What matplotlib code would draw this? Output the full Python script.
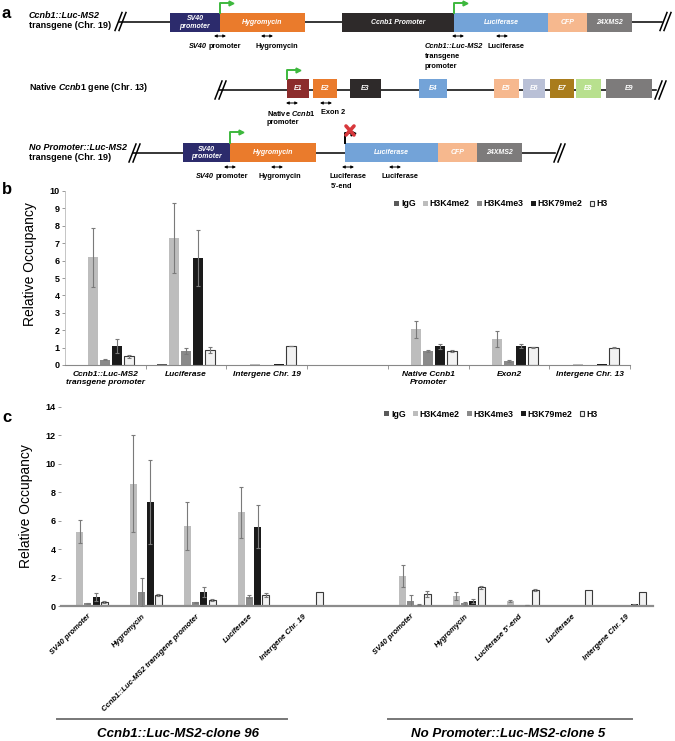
import numpy as np
import matplotlib
matplotlib.use("Agg")
import matplotlib.pyplot as plt
from matplotlib.patches import Rectangle

plt.rcParams["font.family"] = ["Liberation Sans", "DejaVu Sans"]
plt.rcParams["mathtext.fontset"] = "custom"
plt.rcParams["mathtext.it"] = "Liberation Sans:italic:bold"
plt.rcParams["mathtext.rm"] = "Liberation Sans:bold"
plt.rcParams["mathtext.bf"] = "Liberation Sans:bold"

nan = np.nan

# ---- panel b data ----
b_categories = ["Ccnb1::Luc-MS2\ntransgene promoter", "Luciferase", "Intergene Chr. 19", "",
                "Native Ccnb1\nPromoter", "Exon2", "Intergene Chr. 13"]
b_igg = [0.02, 0.03, 0.0, nan, 0.0, 0.0, 0.0]
b_igg_err = [nan, nan, nan, nan, nan, nan, nan]
b_h3k4me2 = [6.2, 7.3, 0.07, nan, 2.05, 1.5, 0.03]
b_h3k4me2_err = [1.7, 2.0, nan, nan, 0.47, 0.45, nan]
b_h3k4me3 = [0.3, 0.8, 0.0, nan, 0.8, 0.22, 0.0]
b_h3k4me3_err = [0.04, 0.15, nan, nan, 0.05, 0.07, nan]
b_h3k79me2 = [1.1, 6.15, 0.05, nan, 1.08, 1.08, 0.04]
b_h3k79me2_err = [0.4, 1.6, nan, nan, 0.15, 0.12, nan]
b_h3 = [0.5, 0.85, 1.1, nan, 0.78, 1.02, 1.0]
b_h3_err = [0.08, 0.16, 0.02, nan, 0.06, 0.04, 0.02]

# ---- panel c data ----
c_categories = ["SV40 promoter", "Hygromycin", "Ccnb1::Luc-MS2 transgene promoter", "Luciferase",
                "Intergene Chr. 19", "", "SV40 promoter", "Hygromycin", "Luciferase 5'-end",
                "Luciferase", "Intergene Chr. 19"]
c_igg = [0.02, 0.02, 0.02, 0.02, 0.03, nan, 0.02, 0.02, 0.0, 0.04, 0.01]
c_igg_err = [nan] * 11
c_h3k4me2 = [5.23, 8.6, 5.63, 6.6, 0.0, nan, 2.11, 0.7, 0.35, 0.06, 0.02]
c_h3k4me2_err = [0.8, 3.4, 1.7, 1.8, nan, nan, 0.75, 0.28, 0.05, nan, nan]
c_h3k4me3 = [0.2, 1.0, 0.25, 0.66, 0.0, nan, 0.35, 0.19, 0.02, 0.03, 0.05]
c_h3k4me3_err = [0.03, 1.0, 0.03, 0.12, nan, nan, 0.42, 0.12, nan, nan, nan]
c_h3k79me2 = [0.61, 7.3, 0.97, 5.59, 0.05, nan, 0.1, 0.33, 0.08, 0.04, 0.12]
c_h3k79me2_err = [0.28, 2.95, 0.37, 1.5, nan, nan, 0.03, 0.13, 0.02, nan, 0.02]
c_h3 = [0.3, 0.78, 0.42, 0.75, 1.0, nan, 0.85, 1.31, 1.1, 1.13, 0.96]
c_h3_err = [0.08, 0.08, 0.08, 0.15, nan, nan, 0.2, 0.08, 0.07, nan, nan]
c_groups = ["Ccnb1::Luc-MS2-clone 96", "No Promoter::Luc-MS2-clone 5"]

series_names = ["IgG", "H3K4me2", "H3K4me3", "H3K79me2", "H3"]
series_colors = ["#5a5a5a", "#bdbdbd", "#8a8a8a", "#1a1a1a", "#f2f2f2"]
series_edges = ["none", "none", "none", "none", "#3a3a3a"]

# ---- panel a schematic (pixel layout) ----
row1_boxes = [("SV40\npromoter", 170, 220, "#2c2b6c"), ("Hygromycin", 220, 305, "#ea7b2c"),
              ("Ccnb1 Promoter", 342, 454, "#2e2a2a"), ("Luciferase", 454, 548, "#73a3d8"),
              ("CFP", 548, 587, "#f6b88e"), ("24XMS2", 587, 632, "#7d7b7b")]
row2_boxes = [("E1", 287, 309, "#8c2c2c"), ("E2", 313, 337, "#ea7b2c"), ("E3", 350, 381, "#2e2a2a"),
              ("E4", 419, 447, "#73a3d8"), ("E5", 494, 519, "#f6b88e"), ("E6", 523, 545, "#b9c0d6"),
              ("E7", 550, 574, "#a97c1c"), ("E8", 576, 601, "#b8e08e"), ("E9", 606, 652, "#7d7b7b")]
row3_boxes = [("SV40\npromoter", 183, 230, "#2c2b6c"), ("Hygromycin", 230, 316, "#ea7b2c"),
              ("Luciferase", 345, 438, "#73a3d8"), ("CFP", 438, 477, "#f6b88e"),
              ("24XMS2", 477, 522, "#7d7b7b")]

W, H = 675, 741
fig = plt.figure(figsize=(W / 100, H / 100), dpi=100)
ax0 = fig.add_axes((0, 0, 1, 1))
ax0.set_xlim(0, W)
ax0.set_ylim(H, 0)
ax0.axis("off")

green = "#3db83d"


def break_mark(x, y):
    for dx in (0, 4):
        ax0.plot([x - 4 + dx, x + 3 + dx], [y + 9, y - 9], color="black", lw=1.1)


def gene_row(boxes, y, x0, x1, top, bot, fs=5.0):
    ax0.plot([x0, x1], [y, y], color="black", lw=1.1, zorder=1)
    for label, a, b, col in boxes:
        ax0.add_patch(Rectangle((a, top), b - a, bot - top, facecolor=col, edgecolor="none", zorder=2))
        ax0.text((a + b) / 2, (top + bot) / 2 + 0.5, label, color="white", fontsize=fs, style="italic",
                 weight="bold", ha="center", va="center", linespacing=1.0, zorder=3)


def tss(x, ybox, yup, length=11, color=green):
    ax0.plot([x, x, x + length], [ybox, yup, yup], color=color, lw=1.4, zorder=3)
    ax0.plot(x + length, yup, marker=">", ms=3.5, color=color, zorder=3)


def primer(x, y):
    ax0.annotate("", xy=(x + 6, y), xytext=(x - 6, y),
                 arrowprops=dict(arrowstyle="<|-|>", lw=0.7, color="black", mutation_scale=4,
                                 shrinkA=0, shrinkB=0))


def label(x, y, s, ha="left", fs=5.3, style="normal"):
    ax0.text(x, y, s, fontsize=fs, weight="bold", ha=ha, va="center", style=style)


def sv40_label(xc, y):
    # "SV40" italic followed by plain "promoter"
    ax0.text(xc - 11, y, "SV40", fontsize=5.3, weight="bold", style="italic", ha="right", va="center")
    ax0.text(xc - 9, y, "promoter", fontsize=5.3, weight="bold", ha="left", va="center")


# row 1
ax0.text(2, 14, "a", fontsize=12, weight="bold", va="center")
ax0.text(29, 16, "Ccnb1::Luc-MS2", fontsize=6.5, weight="bold", style="italic", va="center")
ax0.text(29, 26, "transgene (Chr. 19)", fontsize=6.5, weight="bold", va="center")
break_mark(119, 21.5)
gene_row(row1_boxes, 21.5, 119, 662, 12.5, 31.5)
break_mark(664, 21.5)
tss(220, 12.5, 3)
tss(454, 12.5, 3)
primer(220, 36)
primer(267, 36)
primer(458, 36)
primer(502, 36)
sv40_label(218, 47)
label(277, 47, "Hygromycin", ha="center")
label(425, 47, "Ccnb1::Luc-MS2", style="italic")
label(425, 57, "transgene")
label(425, 67, "promoter")
label(488, 47, "Luciferase")

# row 2
ax0.text(29, 87, "Native $\\mathit{Ccnb1}$ gene (Chr. 13)", fontsize=6.4, weight="bold", va="center")
break_mark(219, 90)
gene_row(row2_boxes, 90, 219, 656, 79, 97.5)
break_mark(659, 90)
tss(287, 79, 70)
primer(292, 103)
primer(326, 103)
label(267, 113, "Native $\\mathit{Ccnb1}$")
label(267, 123, "promoter")
label(321, 113, "Exon 2")

# row 3
ax0.text(29, 148, "No Promoter::Luc-MS2", fontsize=6.5, weight="bold", style="italic", va="center")
ax0.text(29, 158, "transgene (Chr. 19)", fontsize=6.5, weight="bold", va="center")
break_mark(133, 153)
gene_row(row3_boxes, 153, 133, 555, 143, 162)
break_mark(558, 153)
tss(230, 143, 132)
tss(345, 143, 133, length=8, color="black")
ax0.plot([346, 354], [126, 135], color="#d8383c", lw=2.6, solid_capstyle="round", zorder=4)
ax0.plot([346, 354], [135, 126], color="#d8383c", lw=2.6, solid_capstyle="round", zorder=4)
primer(230, 167)
primer(277, 167)
primer(348, 167)
primer(395, 167)
sv40_label(225, 177)
label(280, 177, "Hygromycin", ha="center")
label(329, 177, "Luciferase")
label(331, 187, "5'-end")
label(381, 177, "Luciferase")

ax0.text(2, 190, "b", fontsize=12, weight="bold", va="center")
ax0.text(2, 418, "c", fontsize=12, weight="bold", va="center")


def occupancy(ax, cats, series, errs, step, width, ymax, ystep):
    x = np.arange(len(cats)) + 0.5
    handles = []
    for k, (vals, err) in enumerate(zip(series, errs)):
        pos = x + (k - 2) * step
        bars = ax.bar(pos, vals, width, color=series_colors[k], edgecolor=series_edges[k],
                      linewidth=0.8, label=series_names[k], zorder=2)
        handles.append(bars)
        ax.errorbar(pos, vals, yerr=err, fmt="none", ecolor="#7a7a7a", elinewidth=0.8,
                    capsize=1.6, capthick=0.8, zorder=3)
    ax.set_xlim(0, len(cats))
    ax.set_ylim(0, ymax)
    ax.set_yticks(np.arange(0, ymax + 0.1, ystep))
    ax.tick_params(axis="y", labelsize=6.5, length=2, width=0.6, color="#888888", pad=2)
    for t in ax.get_yticklabels():
        t.set_fontweight("bold")
    for s in ("top", "right"):
        ax.spines[s].set_visible(False)
    ax.patch.set_alpha(0)
    return x, handles


legend_kw = dict(loc="center", bbox_transform=fig.transFigure, ncol=5, frameon=False,
                 handlelength=0.55, handleheight=0.55, handletextpad=0.25, columnspacing=0.8,
                 prop={"size": 6.3, "weight": "bold"})

# ---- panel b ----
ax_b = fig.add_axes((65 / W, 1 - 365 / H, 565 / W, 174 / H))
xb, hb = occupancy(ax_b, b_categories,
                   [b_igg, b_h3k4me2, b_h3k4me3, b_h3k79me2, b_h3],
                   [b_igg_err, b_h3k4me2_err, b_h3k4me3_err, b_h3k79me2_err, b_h3_err],
                   0.149, 0.124, 10, 1)
ax_b.spines["left"].set_color("#bbbbbb")
ax_b.spines["left"].set_linewidth(0.6)
ax_b.spines["bottom"].set_color("#888888")
ax_b.spines["bottom"].set_linewidth(0.8)
ax_b.set_xticks(xb)
ax_b.set_xticklabels(b_categories, fontsize=6.0, weight="bold", style="italic", linespacing=1.25)
ax_b.tick_params(axis="x", length=0, pad=4)
ax_b.set_xticks(np.arange(1, len(b_categories) + 1), minor=True)
ax_b.tick_params(axis="x", which="minor", length=3, width=0.6, color="#888888")
ax_b.set_ylabel("Relative Occupancy", fontsize=10)
ax_b.yaxis.set_label_coords(-28 / 565, 0.58)
ax_b.legend(handles=hb, bbox_to_anchor=(501 / W, 1 - 204 / H), **legend_kw)

# ---- panel c ----
ax_c = fig.add_axes((61 / W, 1 - 606 / H, 592 / W, 199 / H))
xc, hc = occupancy(ax_c, c_categories,
                   [c_igg, c_h3k4me2, c_h3k4me3, c_h3k79me2, c_h3],
                   [c_igg_err, c_h3k4me2_err, c_h3k4me3_err, c_h3k79me2_err, c_h3_err],
                   0.154, 0.13, 14, 2)
ax_c.spines["left"].set_visible(False)
ax_c.spines["bottom"].set_color("#8c8c8c")
ax_c.spines["bottom"].set_linewidth(1.6)
ax_c.set_xticks(xc)
ax_c.set_xticklabels(c_categories, fontsize=5.5, weight="bold", style="italic", rotation=45,
                     ha="right", rotation_mode="anchor")
ax_c.tick_params(axis="x", length=0, pad=5)
ax_c.set_ylabel("Relative Occupancy", fontsize=10, labelpad=9)
ax_c.legend(handles=hc, bbox_to_anchor=(491 / W, 1 - 414 / H), **legend_kw)

# group underlines and labels
ax0.plot([57, 287], [719, 719], color="#777777", lw=1.4)
ax0.plot([388, 632], [719, 719], color="#777777", lw=1.4)
ax0.text(178, 734, c_groups[0], fontsize=9.5, weight="bold", style="italic", ha="center", va="center")
ax0.text(508, 734, c_groups[1], fontsize=9.5, weight="bold", style="italic", ha="center", va="center")

fig.savefig("out.png", dpi=100)
